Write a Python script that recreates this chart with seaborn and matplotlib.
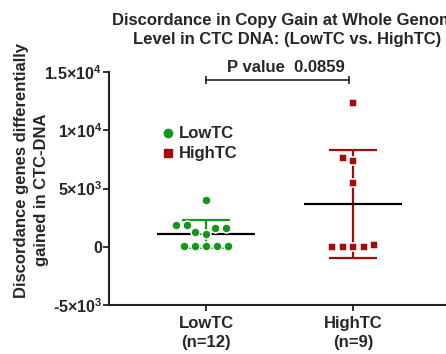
import numpy as np
import pandas as pd
import seaborn as sns
import matplotlib.pyplot as plt
from matplotlib.lines import Line2D

# ---- data ----
groups = ["LowTC", "HighTC"]
low_values = [4030, 1860, 1860, 1630, 1630, 1290, 1110, 30, 30, 30, 30, 30]
high_values = [12320, 7600, 7380, 5430, 150, 20, 20, 20, 20]
tick_labels = ["LowTC\n(n=12)", "HighTC\n(n=9)"]
y_ticks = [-5000, 0, 5000, 10000, 15000]
y_tick_labels = ["-5×10$^{3}$", "0", "5×10$^{3}$",
                 "1×10$^{4}$", "1.5×10$^{4}$"]
p_text = "P value  0.0859"
title_text = "Discordance in Copy Gain at Whole Genome\nLevel in CTC DNA: (LowTC vs. HighTC)"
ylabel_line1 = "Discordance genes differentially"
ylabel_line2 = "gained in CTC-DNA"

green = "#12961c"
red = "#a50a0a"

sns.set_style("white")
plt.rcParams['font.family'] = ['Liberation Sans', 'DejaVu Sans']
plt.rcParams['font.weight'] = 'bold'
plt.rcParams['mathtext.fontset'] = 'custom'
plt.rcParams['mathtext.rm'] = 'Liberation Sans:bold'
plt.rcParams['mathtext.it'] = 'Liberation Sans:bold'
plt.rcParams['mathtext.bf'] = 'Liberation Sans:bold'

df_low = pd.DataFrame({"group": "LowTC", "value": low_values})
df_high = pd.DataFrame({"group": "HighTC", "value": high_values})

fig = plt.figure(figsize=(4.46, 3.54), dpi=100)
ax = fig.add_axes([109 / 446, 49 / 354, 337 / 446, 233 / 354])

sns.swarmplot(data=df_low, x="group", y="value", order=groups, color=green,
              marker="o", size=6.5, linewidth=1.1, edgecolor="white", ax=ax, zorder=4)
sns.swarmplot(data=df_high, x="group", y="value", order=groups, color=red,
              marker="s", size=6.2, linewidth=1.1, edgecolor="white", ax=ax, zorder=4)

# mean and SD
for i, (vals, col) in enumerate([(low_values, green), (high_values, red)]):
    m = np.mean(vals)
    sd = np.std(vals, ddof=1)
    ax.errorbar(i, m, yerr=sd, color=col, lw=1.6, capsize=17.3, capthick=1.6,
                zorder=2)
    ax.hlines(m, i - 0.333, i + 0.333, color="black", lw=1.6, zorder=3)

ax.set_xlim(-0.66, 1.63)
ax.set_ylim(-5000, 15000)
ax.set_yticks(y_ticks)
ax.set_yticklabels(y_tick_labels, fontsize=11.5)
ax.set_xticks([0, 1])
ax.set_xticklabels(tick_labels, fontsize=12, fontweight="bold", linespacing=1.3)
ax.set_xlabel("")
ax.set_ylabel("")

for s in ["top", "right"]:
    ax.spines[s].set_visible(False)
for s in ["left", "bottom"]:
    ax.spines[s].set_color("#222222")
    ax.spines[s].set_linewidth(1.5)
ax.tick_params(axis="both", direction="out", length=4, width=1.3, color="#222222",
               left=True, bottom=True)
ax.tick_params(axis="y", pad=1)
ax.tick_params(axis="x", pad=4)

# significance bracket
ax.plot([0, 0.97], [14320, 14320], color="#222222", lw=1.2, clip_on=False,
        marker="|", markersize=6, markeredgewidth=1.2)
ax.text(0.544, 15400, p_text, ha="center", va="center", fontsize=12,
        fontweight="bold")

# legend
handles = [Line2D([], [], marker="o", ls="", color=green, markersize=6),
           Line2D([], [], marker="s", ls="", color=red, markersize=5.5)]
leg = ax.legend(handles, groups, loc="upper left", bbox_to_anchor=(0.13, 0.795),
                frameon=False, handletextpad=0.15, handlelength=1.0,
                labelspacing=0.3, borderaxespad=0, prop={"size": 12, "weight": "bold"})

# title and y label
fig.text(287 / 446, 1 - 30 / 354, title_text, ha="center", va="center",
         fontsize=12, fontweight="bold", linespacing=1.3)
fig.text(22 / 446, 1 - 171 / 354, ylabel_line1, ha="center", va="center",
         rotation=90, fontsize=12, fontweight="bold")
fig.text(42 / 446, 1 - 190 / 354, ylabel_line2, ha="center", va="center",
         rotation=90, fontsize=12, fontweight="bold")

fig.savefig("out.png", dpi=100)
